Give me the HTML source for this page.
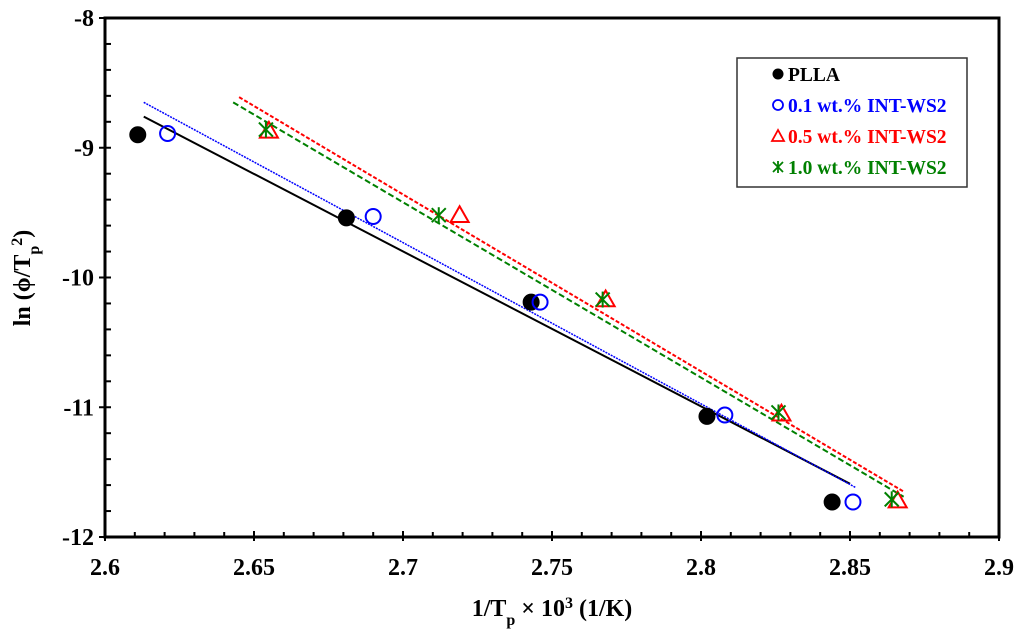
<!DOCTYPE html>
<html><head><meta charset="utf-8"><style>
body{margin:0;background:#fff}
svg{display:block;font-family:"Liberation Serif",serif;font-weight:bold}
</style></head><body>
<svg id="c" width="1024" height="636"></svg>
<script>
const xTicks=[2.6,2.65,2.7,2.75,2.8,2.85,2.9];
const xTickLabels=["2.6","2.65","2.7","2.75","2.8","2.85","2.9"];
const yTicks=[-8,-9,-10,-11,-12];
const yTickLabels=["-8","-9","-10","-11","-12"];
const plllaX=[2.611,2.681,2.743,2.802,2.844];
const plllaY=[-8.90,-9.54,-10.19,-11.07,-11.73];
const ws01X=[2.621,2.690,2.746,2.808,2.851];
const ws01Y=[-8.89,-9.53,-10.19,-11.06,-11.73];
const ws05X=[2.655,2.719,2.768,2.827,2.866];
const ws05Y=[-8.87,-9.52,-10.17,-11.05,-11.72];
const ws10X=[2.654,2.712,2.767,2.826,2.864];
const ws10Y=[-8.86,-9.52,-10.17,-11.04,-11.71];
const fitPllaX=[2.613,2.850], fitPllaY=[-8.76,-11.59];
const fit01X=[2.613,2.852], fit01Y=[-8.65,-11.62];
const fit05X=[2.645,2.868], fit05Y=[-8.61,-11.65];
const fit10X=[2.643,2.868], fit10Y=[-8.65,-11.69];

const X0=105,X1=999,Y0=18,Y1=537;
const sx=v=>X0+(v-2.6)/0.3*(X1-X0);
const sy=v=>Y0+(-8-v)/4*(Y1-Y0);
const svg=document.getElementById('c');
const NS='http://www.w3.org/2000/svg';
function mk(t,a,p){const e=document.createElementNS(NS,t);for(const k in a)e.setAttribute(k,a[k]);(p||svg).appendChild(e);return e;}

function fit(xs,ys,col,dash,w,name){
 const l=mk('line',{x1:sx(xs[0]),y1:sy(ys[0]),x2:sx(xs[1]),y2:sy(ys[1]),stroke:col,'stroke-width':w,'stroke-dasharray':dash});
 
 
}
fit(fitPllaX,fitPllaY,'#000','none',2,'fit-line-plla');
fit(fit01X,fit01Y,'#0000ff','2,1',1.5,'fit-line-0.1wt');
fit(fit05X,fit05Y,'#ff0000','4,2',2,'fit-line-0.5wt');
fit(fit10X,fit10Y,'#008000','6,3',2,'fit-line-1.0wt');

const ax=mk('rect',{x:X0,y:Y0,width:X1-X0,height:Y1-Y0,fill:'none',stroke:'#000','stroke-width':3});


for(let i=0;i<=30;i++){const v=2.6+i*0.01,x=sx(v),maj=i%5==0;
 mk('line',{x1:x,y1:Y1+(maj?4:0),x2:x,y2:Y1-(maj?6:5),stroke:'#000','stroke-width':2});}
for(let i=0;i<=20;i++){const v=-8-i*0.2,y=sy(v),maj=i%5==0;
 mk('line',{x1:X0-(maj?6:0),y1:y,x2:X0+6,y2:y,stroke:'#000','stroke-width':2});}
xTicks.forEach((v,i)=>{const t=mk('text',{x:sx(v),y:575,'font-size':24,'text-anchor':'middle'});t.textContent=xTickLabels[i];
 });
yTicks.forEach((v,i)=>{const t=mk('text',{x:94,y:sy(v)+8,'font-size':24,'text-anchor':'end'});t.textContent=yTickLabels[i];
 });

function circ(x,y,col,fill,name){const c=mk('circle',{cx:x,cy:y,r:7.5,fill:fill,stroke:col,'stroke-width':2});
 }
function tri(x,y,col,name,s){s=s||9;const p=mk('polygon',{points:`${x},${y-s} ${x-s},${y+s*0.75} ${x+s},${y+s*0.75}`,fill:'none',stroke:col,'stroke-width':2});
 }
function star(x,y,col,name,s){s=s||7;const g=mk('g',{stroke:col,'stroke-width':2});
 mk('line',{x1:x-s,y1:y-s,x2:x+s,y2:y+s},g);mk('line',{x1:x-s,y1:y+s,x2:x+s,y2:y-s},g);mk('line',{x1:x,y1:y-s-1,x2:x,y2:y+s+1},g);
 }
plllaX.forEach((v,i)=>circ(sx(v),sy(plllaY[i]),'#000','#000','point-plla'));
ws01X.forEach((v,i)=>circ(sx(v),sy(ws01Y[i]),'#0000ff','none','point-0.1wt'));
ws05X.forEach((v,i)=>tri(sx(v),sy(ws05Y[i]),'#ff0000','point-0.5wt'));
ws10X.forEach((v,i)=>star(sx(v),sy(ws10Y[i]),'#008000','point-1.0wt'));

const lg=mk('g',{});
mk('rect',{x:737,y:58,width:230,height:129,fill:'#fff',stroke:'#333','stroke-width':1.5},lg);
const items=[['PLLA','#000'],['0.1 wt.% INT-WS2','#0000ff'],['0.5 wt.% INT-WS2','#ff0000'],['1.0 wt.% INT-WS2','#008000']];
items.forEach((it,i)=>{const y=74+i*31;
 if(i==0){mk('circle',{cx:778,cy:y,r:5.5,fill:'#000'},lg);}
 if(i==1){mk('circle',{cx:778,cy:y,r:5,fill:'none',stroke:'#0000ff','stroke-width':1.8},lg);}
 if(i==2){mk('polygon',{points:`778,${y-6} 772,${y+5} 784,${y+5}`,fill:'none',stroke:'#ff0000','stroke-width':1.8},lg);}
 if(i==3){const g=mk('g',{stroke:'#008000','stroke-width':1.8},lg);mk('line',{x1:773,y1:y-5,x2:783,y2:y+5},g);mk('line',{x1:773,y1:y+5,x2:783,y2:y-5},g);mk('line',{x1:778,y1:y-6,x2:778,y2:y+6},g);}
 const t=mk('text',{x:788,y:y+7,'font-size':19.5,fill:it[1]},lg);t.textContent=it[0];
 });

const xt=mk('text',{x:552,y:616,'font-size':24,'text-anchor':'middle'});
xt.innerHTML='1/T<tspan baseline-shift="sub" font-size="16">p</tspan> × 10<tspan baseline-shift="super" font-size="16">3</tspan> (1/K)';

const yt=mk('text',{x:0,y:0,'font-size':24,'text-anchor':'middle',transform:'translate(30,278) rotate(-90)'});
yt.innerHTML='ln (ϕ/T<tspan baseline-shift="sub" font-size="16">p</tspan><tspan baseline-shift="super" font-size="16">2</tspan>)';

</script>
</body></html>
